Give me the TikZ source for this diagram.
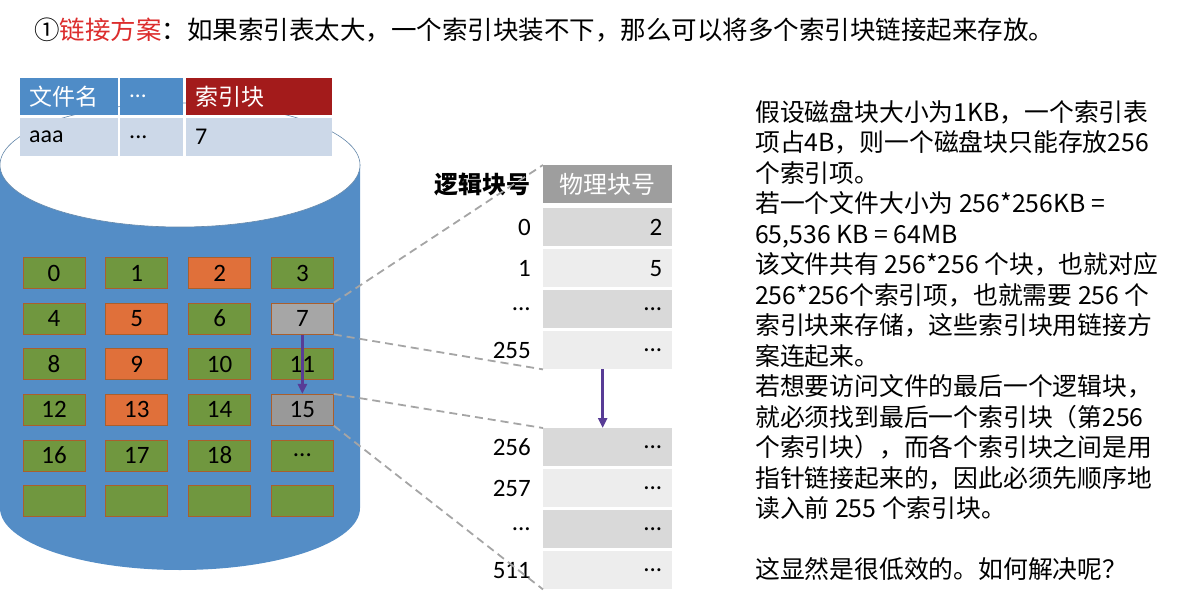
\documentclass[tikz,border=0pt]{standalone}
\usepackage{fontspec}
\setmainfont{Noto Sans CJK SC}
\newfontfamily\numfont{Carlito}
\usetikzlibrary{arrows.meta,
                positioning
                }
\definecolor{diskblue}{RGB}{84,141,198}
\definecolor{hdrblue}{RGB}{79,140,199}
\definecolor{hdrred}{RGB}{163,27,27}
\definecolor{rowblue}{RGB}{204,216,232}
\definecolor{blkgreen}{RGB}{112,151,63}
\definecolor{blkorange}{RGB}{224,112,58}
\definecolor{blkgray}{RGB}{166,166,166}
\definecolor{blkdark}{RGB}{153,153,153}
\definecolor{blkedge}{RGB}{170,95,45}
\definecolor{idxhdr}{RGB}{158,158,158}
\definecolor{rowdark}{RGB}{217,217,217}
\definecolor{rowlight}{RGB}{237,237,237}
\definecolor{dashgray}{RGB}{165,165,165}
\definecolor{ptrpurple}{RGB}{88,60,150}
\definecolor{titlered}{RGB}{220,45,45}
\newcommand\fsz[1]{\fontsize{#1}{#1}\selectfont}
\newcommand\tdots{...}

\begin{document}
\begin{tikzpicture}[x=1pt, y=-1pt,
    blk/.style={draw=blkedge, line width=0.8pt, minimum width=62, minimum height=31,
                inner sep=0pt, font=\numfont\fsz{25}},
    cell/.style={anchor=north west, inner xsep=9pt, inner ysep=0pt, minimum height=37, align=left},
    idx/.style={anchor=north west, text width=109pt, inner xsep=10pt, inner ysep=0pt,
                minimum height=38, align=right, font=\numfont\fsz{25}},
    lbl/.style={inner sep=0pt, font=\numfont\fsz{25}},
    ptr/.style={-{Triangle[length=10pt, width=9pt]}, draw=ptrpurple, line width=2.6pt},
    link/.style={draw=dashgray, line width=1.8pt, dash pattern=on 8pt off 5pt}
    ]
    \useasboundingbox (0,0) rectangle (1182,596);

    %title
    \node[anchor=base west, inner sep=0pt, font=\fsz{25.5}] (title) at (34,40)
        {①\textcolor{titlered}{链接方案}：如果索引表太大，一个索引块装不下，那么可以将多个索引块链接起来存放。};

    %disk
    \fill[diskblue] (0,165) -- (0,508) arc[start angle=180, end angle=360, x radius=180pt, y radius=62pt]
        -- (360,165) -- cycle;
    \draw[fill=white, draw=diskblue!60!gray, line width=0.6pt] (180,165) ellipse [x radius=180pt, y radius=62pt];

    %directory table
    \node[cell, fill=hdrblue, text width=80pt, text=white, font=\fsz{23}] (fname) at (20,78) {文件名};
    \node[cell, fill=hdrblue, text width=45pt, text=white, font=\numfont\fsz{23}] (fmore) at (120,78) {\tdots};
    \node[cell, fill=hdrred, text width=128pt, text=white, font=\fsz{23}] (fidx) at (186,78) {索引块};
    \node[cell, fill=rowblue, text width=80pt, minimum height=38, font=\numfont\fsz{24}] (vname) at (20,118) {aaa};
    \node[cell, fill=rowblue, text width=45pt, minimum height=38, font=\numfont\fsz{24}] (vmore) at (120,118) {\tdots};
    \node[cell, fill=rowblue, text width=128pt, minimum height=38, font=\numfont\fsz{24}] (vidx) at (186,118) {7};

    %disk blocks
    \foreach \n in {0,...,23}{
        \pgfmathtruncatemacro\col{mod(\n,4)}
        \pgfmathtruncatemacro\row{\n/4}
        \pgfmathsetmacro\c{{"blkgreen","blkgreen","blkorange","blkgreen",
                            "blkgreen","blkorange","blkgreen","blkgray",
                            "blkgreen","blkorange","blkgreen","blkgreen",
                            "blkgreen","blkorange","blkgreen","blkdark",
                            "blkgreen","blkgreen","blkgreen","blkgreen",
                            "blkgreen","blkgreen","blkgreen","blkgreen"}[\n]}
        \ifnum\n<19 \def\t{\n}\else\ifnum\n=19 \def\t{\tdots}\else\def\t{}\fi\fi
        \node[blk, fill=\c] (b\n) at (54+82.8*\col, 273+45.6*\row) {\t};
    }

    %first index block
    \node[idx, fill=idxhdr, text=white, align=center, font=\fsz{24}] (hdr) at (543,165) {物理块号};
    \node[lbl, left=12pt of hdr, font=\bfseries\fsz{24}] (hdrlbl) {逻辑块号};
    \foreach \i/\l/\v in {0/0/2, 1/1/5, 2/\tdots/\tdots, 3/255/\tdots}{
        \pgfmathtruncatemacro\odd{mod(\i,2)}
        \ifnum\odd=0 \def\c{rowdark}\else\def\c{rowlight}\fi
        \node[idx, fill=\c] (v\i) at (543,208+41*\i) {\v};
        \node[lbl, left=12pt of v\i] (l\i) {\l};
    }

    %second index block
    \foreach \i/\l in {0/256, 1/257, 2/\tdots, 3/511}{
        \pgfmathtruncatemacro\odd{mod(\i,2)}
        \ifnum\odd=0 \def\c{rowdark}\else\def\c{rowlight}\fi
        \node[idx, fill=\c] (w\i) at (543,428+41*\i) {\tdots};
        \node[lbl, left=12pt of w\i] (m\i) {\l};
    }

    %dashed zoom lines
    \draw[link] (b7.north east) -- (hdr.north west);
    \draw[link] (b7.south east) -- (v3.south west);
    \draw[link] (b15.north east) -- (w0.north west);
    \draw[link] (b15.south east) -- (w3.south west);

    %pointers
    \draw[ptr] (b7.south) -- (b15.north);
    \draw[ptr] ([xshift=-5pt]v3.south) -- ([xshift=-5pt]w0.north);

    %explanation
    \node[anchor=north west, inner sep=0pt, align=left, font=\fontsize{24.8}{30.5}\selectfont] (note) at (755,100)
        {假设磁盘块大小为1KB，一个索引表\\
         项占4B，则一个磁盘块只能存放256\\
         个索引项。\\
         若一个文件大小为 256*256KB =\\
         65,536 KB = 64MB\\
         该文件共有 256*256 个块，也就对应\\
         256*256个索引项，也就需要 256 个\\
         索引块来存储，这些索引块用链接方\\
         案连起来。\\
         若想要访问文件的最后一个逻辑块，\\
         就必须找到最后一个索引块（第256\\
         个索引块），而各个索引块之间是用\\
         指针链接起来的，因此必须先顺序地\\
         读入前 255 个索引块。\\[30.5pt]
         这显然是很低效的。如何解决呢？};
\end{tikzpicture}
\end{document}
